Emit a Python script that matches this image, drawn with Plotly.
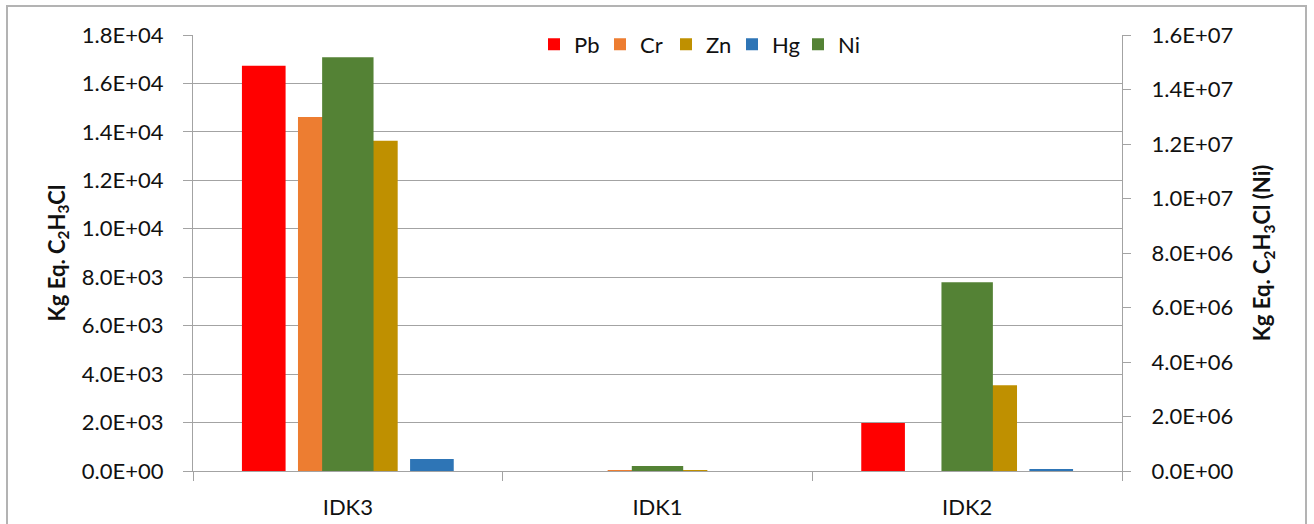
import plotly.graph_objects as go

# ---------------- data ----------------
categories = ["IDK3", "IDK1", "IDK2"]
pb = [16730, 0, 1980]
cr = [14610, 30, 0]
zn = [13630, 40, 3540]
hg = [496, 0, 45]
ni = [1.518e7, 1.8e5, 6.93e6]   # right (secondary) axis

left_ticks = [0, 2000, 4000, 6000, 8000, 10000, 12000, 14000, 16000, 18000]
right_ticks = [0, 2e6, 4e6, 6e6, 8e6, 1e7, 1.2e7, 1.4e7, 1.6e7]

# ---------------- style ----------------
FONT = "Lato"
TXT = "#111111"
GRID = "#a3a3a3"
FS = 22
W_PRI = 0.141
GAP = 0.040
W_NI = 0.166
colors = {"Pb": "#FF0000", "Cr": "#ED7D31", "Zn": "#BF9000", "Hg": "#2E75B6", "Ni": "#548235"}

L, R, T, B = 193, 192, 35, 53
FW, FH = 1314, 524

fig = go.Figure()
start = -(4 * W_PRI + 3 * GAP) / 2
for i, (name, vals) in enumerate([("Pb", pb), ("Cr", cr), ("Zn", zn), ("Hg", hg)]):
    fig.add_trace(go.Bar(
        x=categories, y=vals, name=name,
        width=W_PRI, offset=start + i * (W_PRI + GAP),
        marker=dict(color=colors[name], line=dict(width=0)),
        yaxis="y",
    ))
fig.add_trace(go.Bar(
    x=categories, y=ni, name="Ni",
    width=W_NI, offset=-W_NI / 2,
    marker=dict(color=colors["Ni"], line=dict(width=0)),
    yaxis="y2",
))

def fmt(v):
    return f"{v:.1E}"

PW = FW - L - R
PH = FH - T - B
def px_x(p):
    return (p - L) / PW
def px_y(p):
    return 1 - (p - T) / PH

fig.update_layout(
    width=FW, height=FH,
    margin=dict(l=L, r=R, t=T, b=B, pad=0, autoexpand=False),
    paper_bgcolor="white", plot_bgcolor="white",
    barmode="overlay",
    font=dict(family=FONT, size=FS, color=TXT),
    showlegend=True,
    legend=dict(
        orientation="h", x=px_x(534), xanchor="left", y=px_y(23.5), yanchor="top",
        bgcolor="rgba(0,0,0,0)", font=dict(size=FS, family=FONT, color=TXT),
        itemwidth=30, traceorder="normal", entrywidth=21, entrywidthmode="pixels",
    ),
    xaxis=dict(
        type="category", categoryorder="array", categoryarray=categories,
        range=[-0.5, 2.5], automargin=False,
        showline=True, linecolor=GRID, linewidth=1.3,
        ticks="outside", tickson="boundaries", ticklen=9, tickcolor=GRID, tickwidth=1.3,
        ticklabelstandoff=16,
        showgrid=False, zeroline=False,
        tickfont=dict(size=FS, family=FONT, color=TXT),
    ),
    yaxis=dict(
        range=[0, 18000], tickmode="array", tickvals=left_ticks,
        ticktext=[fmt(v) for v in left_ticks], automargin=False,
        showgrid=True, gridcolor=GRID, gridwidth=1.3,
        showline=True, linecolor=GRID, linewidth=1.3,
        ticks="outside", ticklen=9, tickcolor=GRID, tickwidth=1.3,
        ticklabelstandoff=15, zeroline=False,
        tickfont=dict(size=FS, family=FONT, color=TXT),
        title=dict(text="<b>Kg Eq. C<sub>2</sub>H<sub>3</sub>Cl</b>", standoff=10,
                   font=dict(size=FS, family=FONT, color=TXT)),
    ),
    yaxis2=dict(
        overlaying="y", side="right", automargin=False,
        range=[0, 1.6e7], tickmode="array", tickvals=right_ticks,
        ticktext=[fmt(v) for v in right_ticks],
        showgrid=False, zeroline=False,
        showline=True, linecolor=GRID, linewidth=1.3,
        ticks="outside", ticklen=8, tickcolor=GRID, tickwidth=1.3,
        ticklabelstandoff=16,
        tickfont=dict(size=FS, family=FONT, color=TXT),
        title=dict(text="<b>Kg Eq. C<sub>2</sub>H<sub>3</sub>Cl (Ni)</b>", standoff=22,
                   font=dict(size=FS, family=FONT, color=TXT)),
    ),
    shapes=[dict(
        type="rect", xref="paper", yref="paper",
        x0=px_x(7), x1=px_x(1306), y0=px_y(535), y1=px_y(6),
        line=dict(color="#b3b3b3", width=2), fillcolor="rgba(0,0,0,0)", layer="below",
    )],
)

fig.write_html("out.html", config={"displayModeBar": False},
               post_script="document.body.style.margin='0';")
